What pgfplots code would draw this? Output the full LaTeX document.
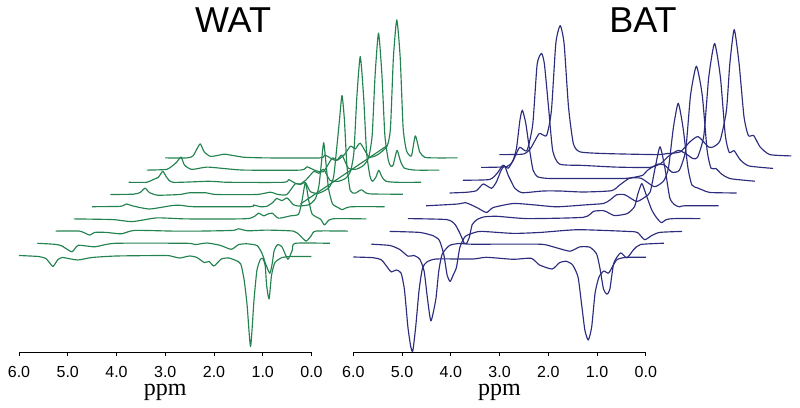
\documentclass[border=0pt]{standalone}
\usepackage{fontspec}
\setmainfont{Liberation Sans}
\newfontfamily\timesf{Liberation Serif}
\usepackage{pgfplots}
\pgfplotsset{compat=1.18}
\definecolor{watc}{RGB}{35,130,80}
\definecolor{batc}{RGB}{45,45,125}
\pgfplotsset{
 spec/.style={scale only axis,width=292.5pt,height=330pt,xmin=0,xmax=6,ymin=0,ymax=330,
  x dir=reverse,clip=false,axis y line=none,axis x line=bottom,x axis line style={-,line width=0.9pt,black},
  xtick={0,1,2,3,4,5,6},xtick align=outside,tick style={black,line width=0.9pt},major tick length=4pt,
  xticklabel style={font=\fontsize{16}{16}\selectfont,/pgf/number format/fixed,/pgf/number format/fixed zerofill,/pgf/number format/precision=1,/pgf/number format/assume math mode=true,yshift=-6pt},
  xlabel={\timesf ppm},xlabel style={font=\fontsize{24}{24}\selectfont,yshift=0pt},
  every axis plot/.append style={smooth,tension=0.35,line width=1.15pt,no markers,line join=round}},
 wt/.style={watc,x filter/.expression={x-#1*0.375},y filter/.expression={y+96.8+#1*12.2}},
 bt/.style={batc,x filter/.expression={x-#1*0.373},y filter/.expression={y+95.3+#1*12.8}},
}
\begin{document}
\begin{tikzpicture}[x=1pt,y=1pt]
\path (0,0) rectangle (800,407);
\begin{axis}[spec,anchor=south west,at={(19pt,54.7pt)}]
\addplot[wt=0] coordinates {(6,0)(5.6,-1)(5.45,-3)(5.36,-8)(5.3,-11)(5.2,-4)(5.1,-2)(4.8,-4.5)(4.5,-2)(4,-.5)(3,0)(2.85,-1)(2.7,-2.5)(2.5,-.5)(2.35,-2)(2.2,-7)(2.1,-6)(2,-10.5)(1.85,-3.5)(1.7,-2.5)(1.55,-5)(1.45,-8.5)(1.38,-25)(1.32,-50)(1.25,-91)(1.18,-45)(1.12,-15)(1.05,-4)(1,-3)(.95,-10)(.92,-30)(.87,-43.5)(.82,-20)(.75,-7)(.6,-2)(.4,-1)(0,-1)};
\addplot[wt=1] coordinates {(6,0)(5.64,-1)(5.5,-2.5)(5.29,-8.5)(5.16,-2)(4.82,-3.5)(4.4,0)(2.93,0)(2.76,-1.3)(2.52,.3)(2.25,-2)(2.02,-6)(1.87,-1.3)(1.7,-.5)(1.49,-2.3)(1.39,-10)(1.32,-20)(1.23,-30)(1.18,-20)(1.14,-7)(1.07,-1.3)(.98,-3.5)(.86,-16)(.77,-7)(.71,0)(0,0)};
\addplot[wt=2] coordinates {(6,0)(5.51,0)(5.3,-4)(5.2,-1.3)(4.96,-1.3)(4.65,-2.7)(4.38,.7)(3.59,0)(3.04,0)(2.36,.7)(2.25,2.3)(2.05,.3)(1.67,1)(1.12,0)(.99,-4.3)(.86,-10)(.75,-4.3)(.66,0)(0,0)};
\addplot[wt=3] coordinates {(6,0)(5.2,-.7)(4.8,-2.7)(4.3,1)(3.7,0)(2.6,0)(2.38,.7)(2.28,3)(2.21,5.7)(2.1,3)(2.03,4.7)(1.93,5.7)(1.8,.7)(1.56,3)(1.39,4.7)(1.32,18)(1.25,36.3)(1.18,18)(1.11,4.7)(.94,-.3)(.86,-6)(.77,-1.3)(.63,.3)(0,0)};
\addplot[wt=4] coordinates {(6,0)(5.43,.3)(5.35,1.5)(5.29,2.7)(5.16,.7)(4.82,-2.3)(4.34,1.3)(4.16,1.3)(3.92,0)(2.76,0)(2.69,1.7)(2.55,0)(2.42,.3)(2.3,4)(2.21,8.3)(2.11,6)(2,8.7)(1.87,2)(1.76,.7)(1.55,2)(1.42,8)(1.35,20)(1.3,42)(1.25,64)(1.2,42)(1.15,18)(1.07,3)(.95,-1)(.87,-3)(.78,-1)(.65,0)(0,0)};
\addplot[wt=5] coordinates {(6,0)(5.53,.3)(5.39,2)(5.29,6.3)(5.2,2)(5.03,-.7)(4.58,0)(4.38,1.7)(4.04,1.7)(3.83,0)(3,0)(2.72,2.3)(2.56,0)(2.38,0)(2.21,10.7)(2.1,10)(2,12)(1.9,3)(1.75,1)(1.6,4)(1.5,8)(1.42,18)(1.35,50)(1.3,75)(1.25,99)(1.2,75)(1.15,30)(1.08,4)(.98,1.3)(.85,4.7)(.7,.7)(0,.3)};
\addplot[wt=6] coordinates {(6,0)(5.63,0)(5.5,2.7)(5.39,5)(5.3,11)(5.22,5)(5.09,0)(4.4,1)(4.2,.7)(3.95,0)(2.82,0)(2.72,2.7)(2.58,-1)(2.48,-1.7)(2.35,3)(2.2,11)(2.1,9)(2,13)(1.87,2)(1.7,1)(1.55,4)(1.45,11)(1.38,30)(1.32,85)(1.25,125.7)(1.18,85)(1.12,30)(1.05,6)(1,1)(.93,5)(.87,12)(.8,5)(.72,1)(.5,0)(0,0)};
\addplot[wt=7] coordinates {(6,0)(5.6,.7)(5.46,5)(5.39,8)(5.3,13)(5.23,5)(5.08,.7)(4.77,3)(4.36,1.3)(4,0)(2.85,0)(2.72,3.3)(2.55,-.3)(2.38,-1.5)(2.2,12)(2.1,10)(2,15)(1.87,2)(1.7,1)(1.55,5)(1.45,13)(1.38,35)(1.32,95)(1.25,137)(1.18,95)(1.12,35)(1.05,10)(1,4)(.95,5)(.87,19.7)(.8,9)(.72,2)(.5,0)(0,0)};
\addplot[wt=8] coordinates {(6,0)(5.55,0)(5.43,2)(5.35,9)(5.28,14)(5.2,6)(5.07,1.5)(4.87,3)(4.77,3.7)(4.39,.7)(3.91,0)(2.82,0)(2.73,3)(2.5,-2.7)(2.33,3)(2.2,11.7)(2.1,9)(2,14.7)(1.82,1)(1.65,3)(1.45,11.7)(1.38,30)(1.32,100)(1.25,138)(1.18,100)(1.12,30)(1.05,7)(.95,2)(.87,22)(.78,6)(.68,.7)(.5,0)(0,0)};
\addplot[watc,smooth=false,sharp plot] coordinates {(.226,148.3)(-1.55,206.6)};
\end{axis}
\begin{axis}[spec,anchor=south west,at={(353.3pt,54.7pt)}]
\addplot[bt=0] coordinates {(6,0)(5.59,-.7)(5.42,-3)(5.29,-11)(5.22,-15)(5.12,-13)(5.02,-16)(4.95,-33)(4.88,-70)(4.82,-90)(4.78,-94)(4.72,-70)(4.65,-33)(4.58,-11)(4.49,-5)(4.3,-2)(3.55,-2)(3.27,-.3)(2.72,-2.3)(2.35,-1.3)(2.18,-8)(1.92,-12)(1.77,-5.7)(1.63,-4.3)(1.5,-8)(1.39,-20)(1.32,-46)(1.25,-73)(1.18,-83)(1.11,-70)(1.04,-36)(.96,-20)(.86,-14)(.76,-16)(.6,-3)(.4,-.3)(0,-.3)};
\addplot[bt=1] coordinates {(6,0)(5.62,-1.3)(5.42,-5.3)(5.25,-12)(5.13,-11.3)(5.01,-15)(4.92,-27)(4.85,-55)(4.78,-76.7)(4.68,-55)(4.62,-27)(4.55,-10)(4.4,-1.3)(4.2,.7)(3.93,0)(2.55,0)(2.27,-2.7)(1.93,-7)(1.73,-2.7)(1.52,-3)(1.38,-10)(1.31,-25)(1.24,-45)(1.17,-50)(1.11,-45)(1.03,-19)(.89,-8.7)(.76,-13.7)(.62,-5.3)(.48,-.3)(0,1)};
\addplot[bt=2] coordinates {(6,0)(5.39,-1)(5.11,-4.3)(4.98,-9)(4.89,-23)(4.82,-44)(4.76,-50)(4.7,-44)(4.63,-36)(4.56,-16)(4.45,-5)(4.25,-1)(4.1,0)(3.46,-2)(2.9,-1)(2.14,1.7)(1.12,0)(.92,-1)(.77,-8.3)(.63,-4.3)(.46,-1)(0,0)};
\addplot[bt=3] coordinates {(6,0)(5.2,-1)(5.03,-6)(4.92,-16)(4.85,-24)(4.8,-25)(4.74,-19)(4.68,-6)(4.58,-1)(4.44,1.7)(4.17,2.3)(3.55,0)(2.4,1.3)(2.19,7.3)(1.99,8)(1.93,7)(1.76,3)(1.5,5)(1.35,12)(1.28,25)(1.2,35)(1.12,25)(1,9)(.9,1)(.8,-4)(.7,-1)(.55,0)(0,0)};
\addplot[bt=4] coordinates {(6,0)(5.37,1.7)(5.18,3)(4.96,-1.7)(4.76,-6.7)(4.62,-1.7)(4.21,2.3)(3.8,1)(3.32,-1)(2.71,1)(2.36,2.3)(2.23,5.7)(2.09,11)(1.92,11)(1.68,4.3)(1.5,9)(1.4,14)(1.3,38)(1.2,59)(1.1,38)(1,8)(.9,1)(.8,-1)(.7,0)(0,0)};
\addplot[bt=5] coordinates {(5.89,0)(5.55,.7)(5.34,2.3)(5.2,9)(5.03,4.7)(4.93,11)(4.83,23)(4.76,27)(4.69,18)(4.62,11)(4.55,4.7)(4.4,.3)(3.97,2)(3.63,2)(3.15,1)(2.57,2.3)(2.4,8)(2.2,14.7)(1.96,14.7)(1.69,6.3)(1.5,12)(1.4,25)(1.3,65)(1.2,89.7)(1.1,65)(1,25)(.92,8)(.8,5)(.7,3)(.55,.5)(0,0)};
\addplot[bt=6] coordinates {(5.99,0)(5.44,.7)(5.27,8)(5.17,15)(5.06,12)(4.96,20)(4.89,32)(4.82,60)(4.77,70)(4.7,57)(4.63,33)(4.55,10)(4.45,3.3)(4.21,1.7)(3.53,1.7)(2.7,1.7)(2.47,3)(2.3,5)(2.2,10)(2,16)(1.85,15)(1.7,8)(1.55,10)(1.42,30)(1.32,85)(1.2,114)(1.08,85)(.98,30)(.9,12)(.8,11.7)(.68,6)(.5,1.5)(0,-1)};
\addplot[bt=7] coordinates {(5.99,0)(5.47,.7)(5.34,6)(5.2,20)(5.05,16.7)(4.93,43)(4.84,103)(4.75,114)(4.69,103)(4.6,57)(4.52,16.7)(4.38,3.3)(3.9,2)(3.22,.3)(2.53,0)(2.3,4)(2.15,11)(1.95,17)(1.8,14)(1.65,9)(1.55,10)(1.42,32)(1.32,90)(1.2,124)(1.08,90)(.98,32)(.9,15)(.8,16.7)(.68,8)(.5,1.5)(0,-1)};
\addplot[bt=8] coordinates {(5.99,0)(5.5,.5)(5.35,6)(5.17,21)(5.02,19)(4.92,44)(4.83,111)(4.74,129)(4.66,111)(4.57,48)(4.47,11)(4.33,2.7)(3.79,1)(2.76,0)(2.55,1)(2.28,2.7)(2.08,12.7)(1.91,18)(1.7,7.7)(1.6,7.7)(1.46,14)(1.33,44)(1.26,91)(1.17,125)(1.07,91)(.97,38)(.88,19)(.77,19)(.64,7.7)(.44,0)(0,-1.3)};
\end{axis}
\node[font=\fontsize{36}{36}\selectfont,inner sep=0pt,anchor=base] at (233,374) {WAT};
\node[font=\fontsize{36}{36}\selectfont,inner sep=0pt,anchor=base] at (643,374) {BAT};
\end{tikzpicture}
\end{document}
